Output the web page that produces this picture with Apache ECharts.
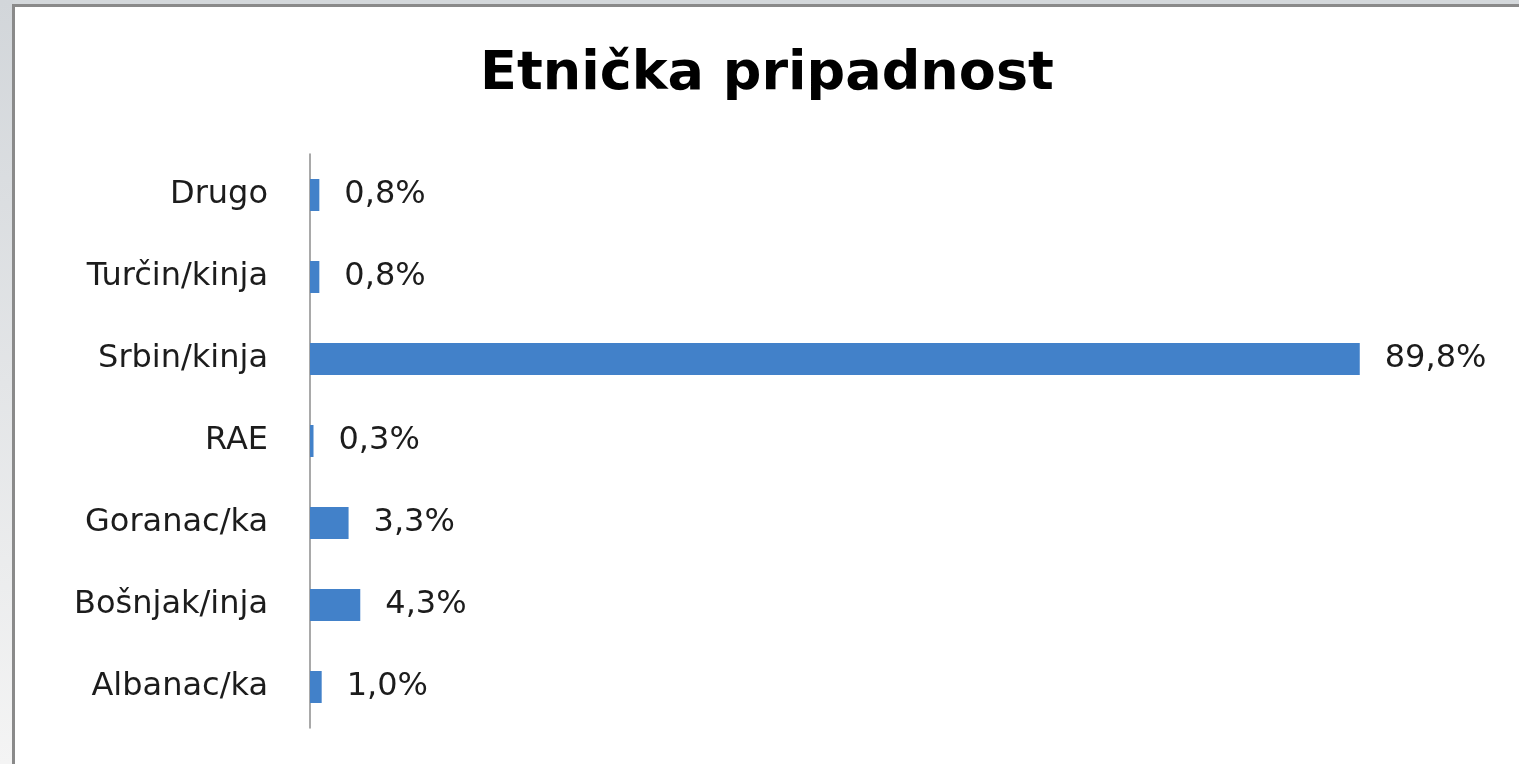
<!DOCTYPE html>
<html>
<head>
<meta charset="utf-8">
<script src="https://cdn.jsdelivr.net/npm/echarts@6/dist/echarts.min.js"></script>
<style>
html,body{margin:0;padding:0;background:#fff;}
#chart{width:1519px;height:764px;}
</style>
</head>
<body>
<div id="chart"></div>
<script>
const titleText = 'Etnička pripadnost';
const categories = ['Albanac/ka', 'Bošnjak/inja', 'Goranac/ka', 'RAE', 'Srbin/kinja', 'Turčin/kinja', 'Drugo'];
const values = [1.0, 4.3, 3.3, 0.3, 89.8, 0.8, 0.8];

const chart = echarts.init(document.getElementById('chart'), null, {renderer: 'canvas'});
chart.setOption({
  animation: false,
  backgroundColor: '#ffffff',
  graphic: [
    {type: 'rect', left: 0, top: 0, shape: {width: 1519, height: 5}, style: {fill: '#d4d8db'}, z: -10},
    {type: 'rect', left: 0, top: 0, shape: {width: 13, height: 764},
      style: {fill: new echarts.graphic.LinearGradient(0, 0, 0, 1, [
        {offset: 0, color: '#d2d6da'}, {offset: 1, color: '#f4f4f4'}])}, z: -10},
    {type: 'rect', left: 12, top: 4, shape: {width: 1520, height: 3}, style: {fill: '#8a8a8a'}, z: -5},
    {type: 'rect', left: 12, top: 4, shape: {width: 3, height: 770}, style: {fill: '#8a8a8a'}, z: -5}
  ],
  title: {
    text: titleText,
    left: 480,
    top: 48,
    padding: 0,
    textStyle: {fontFamily: 'DejaVu Sans', fontWeight: 'bold', fontSize: 54, color: '#000'}
  },
  grid: {left: 310, right: 40, top: 154, bottom: 36, containLabel: false},
  xAxis: {
    type: 'value', min: 0, max: 100,
    show: false
  },
  yAxis: {
    type: 'category',
    data: categories,
    axisLine: {show: true, lineStyle: {color: '#8c8c8c', width: 1.5}},
    axisTick: {show: false},
    axisLabel: {fontFamily: 'DejaVu Sans', fontSize: 32, color: '#1c1c1c', margin: 42, padding: [3, 0, 0, 0]},
    splitLine: {show: false}
  },
  series: [{
    type: 'bar',
    data: values,
    barWidth: 32,
    itemStyle: {color: '#4281c9'},
    label: {
      show: true,
      position: 'right',
      distance: 25,
      fontFamily: 'DejaVu Sans',
      fontSize: 32,
      color: '#1c1c1c',
      padding: [3, 0, 0, 0],
      formatter: p => p.value.toFixed(1).replace('.', ',') + '%'
    }
  }]
});
</script>
</body>
</html>
